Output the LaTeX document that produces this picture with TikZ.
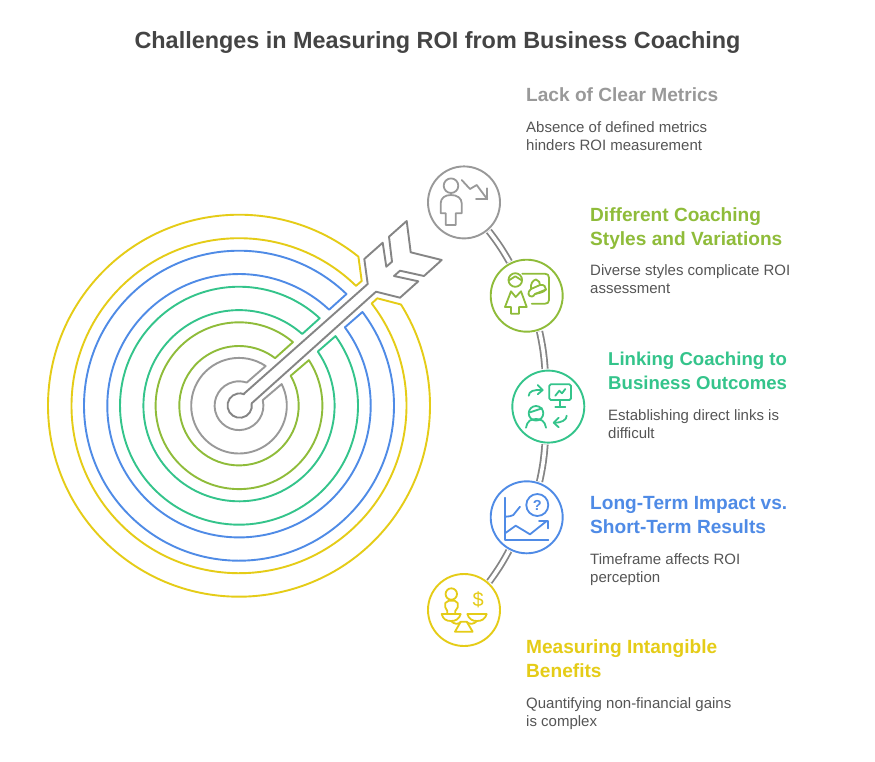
\documentclass[tikz,border=0pt]{standalone}
\usepackage{fontspec}
\setmainfont{Liberation Sans}
\usetikzlibrary{calc}
\definecolor{cgray}{HTML}{999999}
\definecolor{cdark}{HTML}{858585}
\definecolor{colive}{HTML}{8FBC3A}
\definecolor{cgreen}{HTML}{34C48B}
\definecolor{cblue}{HTML}{4F8BE6}
\definecolor{cyellow}{HTML}{E5CC17}
\definecolor{ctitle}{HTML}{444444}
\definecolor{cbody}{HTML}{555555}
\tikzset{
  ring/.style={line width=1.9pt,line join=round},
  badge/.style={circle,draw,line width=1.9pt,fill=white,minimum size=72pt,inner sep=0pt},
  spine/.style={draw=cdark,line width=1.8pt,double=white,double distance=3.6pt,shorten <=1pt,shorten >=1pt},
  ico/.style={line width=1.8pt,line join=round,line cap=round},
  headtxt/.style={anchor=north west,inner sep=0pt,align=left,font=\bfseries\fontsize{19.1}{24}\selectfont},
  bodytxt/.style={anchor=north west,inner sep=0pt,align=left,text=cbody,font=\fontsize{15}{18}\selectfont},
}
\newcommand\band[7]{\draw[ring,#1] ($(c)+(#3:#2)$) arc[start angle=#3,end angle=#4,radius=#2] -- ($(c)+(#6:#5)$) arc[start angle=#6,end angle=#7,radius=#5] -- cycle;}
\begin{document}
\begin{tikzpicture}[x=1pt,y=-1pt]
\useasboundingbox[fill=white] (0,0) rectangle (875,761);
\coordinate (c) at (239,405.7);
% title
\node[inner sep=0pt,anchor=base,text=ctitle,font=\bfseries\fontsize{23.4}{28}\selectfont] (title) at (437.5,48.5) {Challenges in Measuring ROI from Business Coaching};
% target
\band{cgray}{47.8}{-56.1}{-386.9}{24.4}{-373.2}{-71.5}
\band{colive}{83.4}{-49.7}{-393.1}{59.7}{-390.1}{-52.8}
\band{cgreen}{119}{-47.3}{-395.8}{95.6}{-394.5}{-48.6}
\band{cblue}{155}{-46.1}{-397.2}{131.7}{-396.5}{-46.8}
\draw[ring,cyellow] ($(c)+(-51.3:191)$) arc[start angle=-51.3,end angle=-392,radius=191] -- (377.3,298.3) -- ($(c)+(-37.6:167.5)$) arc[start angle=-397.6,end angle=-45.7,radius=167.5] -- (361.7,281) -- cycle;
% arrow
\draw[ring,cdark] (243.3,394.3) -- (367.7,284) -- (364.3,259) -- (382.7,242.7) -- (386.3,266.7) -- (392,261.7) -- (389,236.7) -- (406.7,221) -- (410.7,252.3) -- (441.7,260) -- (424,276) -- (400,270.7) -- (394,276) -- (418.3,281.3) -- (400,297.7) -- (376,291.7) -- (251.7,403.3) arc[start angle=-10.7,end angle=291,radius=12.2] -- cycle;
% badges
\node[badge,draw=cgray] (b1) at (464,202.4) {};
\node[badge,draw=colive] (b2) at (526.7,295.7) {};
\node[badge,draw=cgreen] (b3) at (548.3,406.6) {};
\node[badge,draw=cblue] (b4) at (526.7,517.3) {};
\node[badge,draw=cyellow] (b5) at (464,610) {};
% connectors
\draw[spine] (b1.-49) to[bend left=4] (b2.117);
\draw[spine] (b2.-70) to[bend left=4] (b3.95);
\draw[spine] (b3.-95) to[bend left=4] (b4.70);
\draw[spine] (b4.-118) to[bend left=4] (b5.48);
% icon 1
\begin{scope}[ico,cgray]
\draw (451,185.7) circle[radius=7.3];
\draw (445.7,225) -- (445.7,213.3) -- (440.7,213.3) -- (440.7,203.3) .. controls (440.7,198) and (445,195) .. (451,195) .. controls (457,195) and (461.7,198) .. (461.7,203.3) -- (461.7,213.3) -- (455.7,213.3) -- (455.7,225) -- cycle;
\draw (461.7,180) -- (470,189) -- (476.7,185) -- (487.3,199.3);
\draw (487.3,188.3) -- (487.3,199.3) -- (476,199.3);
\end{scope}
% icon 2
\begin{scope}[ico,colive]
\draw (515.3,280) circle[radius=6.8];
\draw (509,280.3) -- (515.3,276.3) -- (521.7,280.3);
\draw (511,291.3) -- (505,307) -- (511,307) -- (511,313.7) -- (519,313.7) -- (519,307) -- (526.7,307) -- (521,291.3) -- (515.7,297) -- cycle;
\draw (522.3,273.7) -- (545,273.7) .. controls (547.5,273.7) and (549,275.2) .. (549,277.7) -- (549,300) .. controls (549,302.5) and (547.5,303.7) .. (545,303.7) -- (531.7,303.7);
\draw (532,296.5) .. controls (528,297) and (527,292) .. (531,289) .. controls (530,284) and (533,280) .. (536,279.5) .. controls (539,280) and (540,283) .. (540,285) .. controls (544,284) and (546,287) .. (546,289.5) .. controls (543,293) and (538,293) .. (535,294) .. controls (534,295.5) and (533,296.4) .. (532,296.5) -- cycle;
\draw (531,289) -- (540,285);
\draw (535,294) -- (546,289.5);
\end{scope}
% icon 3
\begin{scope}[ico,cgreen]
\draw (528.7,395.7) .. controls (529,391) and (534,389.5) .. (542,390);
\draw (537.7,385) -- (542.7,390) -- (537.7,394.3);
\draw[rounded corners=1.5pt] (549.3,384.3) rectangle (571,400);
\draw (560,400) -- (560,407.3) (555.3,407.3) -- (565.3,407.3);
\draw (555.3,395.7) -- (559.3,390.7) -- (562,393.3) -- (565.3,389);
\draw (536,413.3) circle[radius=7.3];
\draw (530,412.3) -- (542,408.3);
\draw (526,427.7) .. controls (527,421) and (531,419) .. (536,419) .. controls (541,419) and (545,421) .. (546,427.7);
\draw (566.7,415.7) .. controls (566.5,420) and (562,422.7) .. (554.3,422.7);
\draw (558.7,417.7) -- (553.7,422.7) -- (558.7,427.3);
\end{scope}
% icon 4
\begin{scope}[ico,cblue]
\draw (505,497.7) -- (505,540) -- (548.3,540);
\draw (505,516.7) .. controls (509,516.5) and (512,516) .. (513.3,515) -- (520,506.7);
\draw (505,533.3) -- (515.7,525.7) -- (530,534.3) -- (546.7,521);
\draw (539,521) -- (547.7,521) -- (547.7,528.3);
\draw (537.3,505) circle[radius=11];
\node[inner sep=0pt,text=cblue,font=\bfseries\fontsize{14.5}{15}\selectfont] (qm) at (537.3,505) {?};
\end{scope}
% icon 5
\begin{scope}[ico,cyellow]
\draw (451.3,594) circle[radius=5.7];
\draw (447.3,613) -- (447.3,611) -- (445.3,607.3) -- (445.3,603) -- (448.7,600.7) -- (454.7,600.7) -- (457.7,603) -- (457.7,607.3) -- (455.3,611) -- (455.3,613);
\draw (441.7,614) -- (460.7,614) .. controls (459,619) and (456,621) .. (451,621) .. controls (446,621) and (443,619) .. (441.7,614) -- cycle;
\draw (467.3,614) -- (486.7,614) .. controls (485,619) and (482,621) .. (477,621) .. controls (472,621) and (469,619) .. (467.3,614) -- cycle;
\draw (451,621) .. controls (454,624) and (458,625) .. (460.7,622);
\draw (477,621) .. controls (474,624) and (470,625) .. (466.7,622);
\draw (455,631.7) -- (472.7,631.7) -- (466.7,621.7) -- (460.7,621.7) -- cycle;
\node[inner sep=0pt,text=cyellow,font=\fontsize{20}{20}\selectfont] (dollar) at (478.3,600) {\$};
\end{scope}
% labels
\node[headtxt,text=cgray] (t1) at (526,84.2) {\strut Lack of Clear Metrics};
\node[bodytxt] (d1) at (526,119.4) {\strut Absence of defined metrics\\\strut hinders ROI measurement};
\node[headtxt,text=colive] (t2) at (590,204.2) {\strut Different Coaching\\\strut Styles and Variations};
\node[bodytxt] (d2) at (590,263) {\strut Diverse styles complicate ROI\\\strut assessment};
\node[headtxt,text=cgreen,font=\bfseries\fontsize{18.6}{24}\selectfont] (t3) at (608,348.2) {\strut Linking Coaching to\\\strut Business Outcomes};
\node[bodytxt] (d3) at (608,407.2) {\strut Establishing direct links is\\\strut difficult};
\node[headtxt,text=cblue] (t4) at (590,492.2) {\strut Long-Term Impact vs.\\\strut Short-Term Results};
\node[bodytxt] (d4) at (590,551.2) {\strut Timeframe affects ROI\\\strut perception};
\node[headtxt,text=cyellow] (t5) at (526,636.2) {\strut Measuring Intangible\\\strut Benefits};
\node[bodytxt] (d5) at (526,695.4) {\strut Quantifying non-financial gains\\\strut is complex};
\end{tikzpicture}
\end{document}
